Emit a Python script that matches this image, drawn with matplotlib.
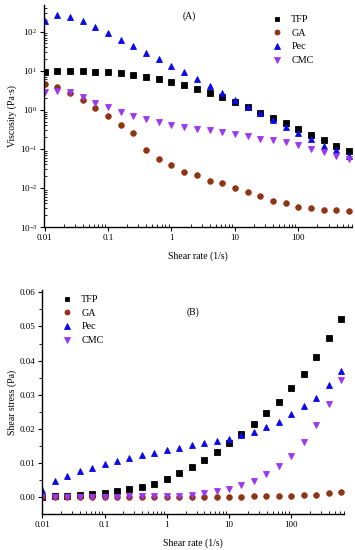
import matplotlib
matplotlib.use("Agg")
import matplotlib.pyplot as plt
from matplotlib.ticker import LogLocator, LogFormatterSciNotation, FixedLocator, NullFormatter, FormatStrFormatter

plt.rcParams['font.family'] = ['Liberation Serif', 'DejaVu Serif']
plt.rcParams['mathtext.fontset'] = 'custom'
plt.rcParams['mathtext.rm'] = 'Liberation Serif'
plt.rcParams['mathtext.it'] = 'Liberation Serif:italic'

shear_rate = [0.01, 0.0158, 0.0251, 0.0398, 0.0631, 0.1, 0.158, 0.251, 0.398, 0.631,
              1, 1.58, 2.51, 3.98, 6.31, 10, 15.8, 25.1, 39.8, 63.1,
              100, 158, 251, 398, 631]

series = ["TFP", "GA", "Pec", "CMC"]

visc_tfp = [9.3, 10, 10, 9.8, 9.4, 9.0, 8.5, 7.8, 6.9, 6.0, 5.2, 4.3, 3.5, 2.7, 2.1,
            1.6, 1.2, 0.84, 0.61, 0.46, 0.32, 0.23, 0.17, 0.12, 0.089]
visc_ga = [4.5, 3.8, 2.7, 1.8, 1.1, 0.69, 0.41, 0.25, 0.096, 0.055, 0.038, 0.026, 0.021,
           0.015, 0.013, 0.0098, 0.0077, 0.0063, 0.0047, 0.0040, 0.0033, 0.0030, 0.0028,
           0.0027, 0.0026]
visc_pec = [190, 263, 232, 183, 129, 91, 62, 43, 29, 20, 13.5, 9.4, 6.1, 4.1, 2.7, 1.8,
            1.2, 0.81, 0.55, 0.37, 0.26, 0.18, 0.12, 0.091, 0.066]
visc_cmc = [2.9, 3.1, 2.8, 2.1, 1.5, 1.15, 0.87, 0.69, 0.59, 0.49, 0.41, 0.36, 0.32, 0.30,
            0.27, 0.24, 0.21, 0.18, 0.17, 0.15, 0.126, 0.10, 0.081, 0.066, 0.055]

stress_tfp = [0.0001, 0.0002, 0.0003, 0.0005, 0.0008, 0.0012, 0.0017, 0.0023, 0.0028, 0.0039,
              0.0053, 0.0069, 0.0087, 0.0109, 0.0132, 0.0158, 0.0185, 0.0214, 0.0245, 0.0279,
              0.0319, 0.0361, 0.0410, 0.0465, 0.0522]
stress_ga = [0.0000, 0.0001, 0.0001, 0.0001, 0.0001, 0.0001, 0.0001, 0.0001, 0.0000, 0.0000,
             0.0000, 0.0000, 0.0001, 0.0001, 0.0001, 0.0001, 0.0001, 0.0002, 0.0002, 0.0003,
             0.0003, 0.0005, 0.0007, 0.0011, 0.0015]
stress_pec = [0.0021, 0.0046, 0.0062, 0.0076, 0.0086, 0.0097, 0.0105, 0.0114, 0.0123, 0.0130,
              0.0137, 0.0144, 0.0152, 0.0158, 0.0165, 0.0171, 0.0182, 0.0190, 0.0205, 0.0221,
              0.0242, 0.0266, 0.0291, 0.0329, 0.0368]
stress_cmc = [0.0000, 0.0000, 0.0001, 0.0001, 0.0001, 0.0001, 0.0001, 0.0002, 0.0002, 0.0003,
              0.0004, 0.0004, 0.0006, 0.0012, 0.0018, 0.0023, 0.0034, 0.0047, 0.0066, 0.0090,
              0.0121, 0.0160, 0.0210, 0.0274, 0.0343]

styles = {
    "TFP": dict(marker='s', color='#000000', mec='#000000', ms=3.7),
    "GA": dict(marker='o', color='#7a3f12', mec='#b02010', ms=4.0),
    "Pec": dict(marker='^', color='#0a0ae6', mec='#0a0ae6', ms=4.5),
    "CMC": dict(marker='v', color='#9a38f0', mec='#9a38f0', ms=4.5),
}

W, H = 355, 550
fig = plt.figure(figsize=(W / 100, H / 100), dpi=100)

def box(l, t, r, b):
    return [l / W, 1 - b / H, (r - l) / W, (b - t) / H]

FS = 6.5

def style_axes(ax):
    for s in ['top', 'right']:
        ax.spines[s].set_visible(False)
    for s in ['left', 'bottom']:
        ax.spines[s].set_linewidth(1.0)
    ax.tick_params(which='major', direction='out', length=3, width=0.8, labelsize=FS, pad=2)
    ax.tick_params(which='minor', length=2, width=0.6)
    ax.tick_params(axis='x', which='minor', direction='in')

# ---------- Panel A ----------
axA = fig.add_axes(box(44, 5, 352, 227))
visc = {"TFP": visc_tfp, "GA": visc_ga, "Pec": visc_pec, "CMC": visc_cmc}
for name in series:
    st = styles[name]
    axA.plot(shear_rate, visc[name], linestyle='none', marker=st['marker'],
             color=st['color'], mec=st['mec'], mew=0.6, ms=st['ms'], label=name)
axA.set_xscale('log')
axA.set_yscale('log')
axA.set_xlim(0.0098, 700)
axA.set_ylim(1e-3, 480)
axA.xaxis.set_major_locator(FixedLocator([0.01, 0.1, 1, 10, 100]))
axA.xaxis.set_major_formatter(FormatStrFormatter('%g'))
axA.xaxis.set_minor_locator(LogLocator(base=10, subs=range(2, 10), numticks=20))
axA.xaxis.set_minor_formatter(NullFormatter())
axA.yaxis.set_major_locator(LogLocator(base=10, numticks=10))
axA.yaxis.set_major_formatter(LogFormatterSciNotation())
axA.yaxis.set_minor_locator(LogLocator(base=10, subs=range(2, 10), numticks=20))
axA.yaxis.set_minor_formatter(NullFormatter())
style_axes(axA)
axA.tick_params(axis='y', which='minor', direction='in')
axA.set_xlabel('Shear rate (1/s)', fontsize=7, labelpad=7)
axA.set_ylabel('Viscosity (Pa·s)', fontsize=7, labelpad=2)
axA.text(0.47, 0.95, '(A)', transform=axA.transAxes, fontsize=7, ha='center', va='center')
axA.legend(loc='upper left', bbox_to_anchor=(271 / W, 1 - 15 / H), bbox_transform=fig.transFigure,
           frameon=False, fontsize=7.3, handlelength=1.2, handletextpad=0.8,
           labelspacing=0.45, borderpad=0, borderaxespad=0, markerscale=0.9)

# ---------- Panel B ----------
axB = fig.add_axes(box(42, 290, 344, 514))
stress = {"TFP": stress_tfp, "GA": stress_ga, "Pec": stress_pec, "CMC": stress_cmc}
for name in series:
    st = styles[name]
    axB.plot(shear_rate, stress[name], linestyle='none', marker=st['marker'],
             color=st['color'], mec=st['mec'], mew=0.6, ms=st['ms'], label=name)
axB.set_xscale('log')
axB.set_xlim(0.0099, 700)
axB.set_ylim(-0.005, 0.0607)
axB.xaxis.set_major_locator(FixedLocator([0.01, 0.1, 1, 10, 100]))
axB.xaxis.set_major_formatter(FormatStrFormatter('%g'))
axB.xaxis.set_minor_locator(LogLocator(base=10, subs=range(2, 10), numticks=20))
axB.xaxis.set_minor_formatter(NullFormatter())
axB.yaxis.set_major_locator(FixedLocator([0.0, 0.01, 0.02, 0.03, 0.04, 0.05, 0.06]))
axB.yaxis.set_major_formatter(FormatStrFormatter('%.2f'))
axB.yaxis.set_minor_locator(FixedLocator([0.005, 0.015, 0.025, 0.035, 0.045, 0.055]))
style_axes(axB)
axB.tick_params(axis='y', which='minor', direction='out')
axB.set_xlabel('Shear rate (1/s)', fontsize=7, labelpad=7)
axB.set_ylabel('Shear stress (Pa)', fontsize=7, labelpad=2)
axB.text(0.5, 0.9, '(B)', transform=axB.transAxes, fontsize=7, ha='center', va='center')
axB.legend(loc='upper left', bbox_to_anchor=(61 / W, 1 - 295 / H), bbox_transform=fig.transFigure,
           frameon=False, fontsize=7.3, handlelength=1.2, handletextpad=0.8,
           labelspacing=0.45, borderpad=0, borderaxespad=0, markerscale=0.9)

fig.savefig('out.png', dpi=100)
